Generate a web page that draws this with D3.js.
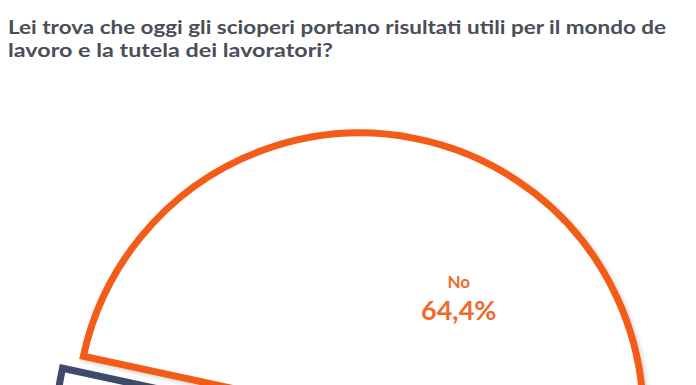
<!DOCTYPE html>
<html>
<head>
<meta charset="utf-8">
<script src="https://cdn.jsdelivr.net/npm/d3@7"></script>
<style>
  html, body { margin: 0; padding: 0; background: #ffffff; }
  svg { display: block; }
</style>
</head>
<body>
<svg id="chart" width="696" height="385"></svg>
<script>
// ---- data ----
const titleLines = [
  "Lei trova che oggi gli scioperi portano risultati utili per il mondo de",
  "lavoro e la tutela dei lavoratori?"
];
const categories = ["No", "Sì"];
const values = [64.4, 35.6];
const valueLabels = ["64,4%", "35,6%"];
const colors = ["#f25c19", "#3d4b68"];

// ---- layout ----
const W = 696, H = 385;
const cx = 360, cy = 416;
const R = [283, 293];          // outer radius per slice
const explode = [0, 18];       // offset per slice
const startDeg = -77.8;

const svg = d3.select("#chart");
svg.append("rect").attr("width", W).attr("height", H).attr("fill", "#ffffff");

const defs = svg.append("defs");
const f = defs.append("filter").attr("id", "sh").attr("x", "-20%").attr("y", "-20%").attr("width", "140%").attr("height", "140%");
f.append("feDropShadow").attr("dx", 2).attr("dy", 2).attr("stdDeviation", 2).attr("flood-color", "#000").attr("flood-opacity", 0.18);

// title
const title = svg.append("g");
title.selectAll("text").data(titleLines).join("text")
  .attr("x", 8)
  .attr("y", (d, i) => 34 + i * 23)
  .attr("font-family", "Lato, 'Noto Sans', sans-serif")
  .attr("font-weight", 700)
  .attr("font-size", 18)
  .attr("fill", "#4a4e58")
  .attr("textLength", (d, i) => i === 0 ? 658 : 325)
  .attr("lengthAdjust", "spacingAndGlyphs")
  .text(d => d);

const pie = d3.pie().sort(null).value(d => d)
  .startAngle(startDeg * Math.PI / 180)
  .endAngle(startDeg * Math.PI / 180 + 2 * Math.PI);
const arcs = pie(values);

const g = svg.append("g").attr("transform", `translate(${cx},${cy})`);

g.selectAll("path.slice").data(arcs).join("path")
  .attr("class", "slice")
  .attr("transform", (d, i) => {
    const m = (d.startAngle + d.endAngle) / 2;
    return `translate(${Math.sin(m) * explode[i]},${-Math.cos(m) * explode[i]})`;
  })
  .attr("d", (d, i) => d3.arc().innerRadius(0).outerRadius(R[i])(d))
  .attr("fill", "#ffffff")
  .attr("stroke", (d, i) => colors[i])
  .attr("stroke-width", 7)
  .attr("stroke-linejoin", "miter")
  .attr("filter", "url(#sh)");

// labels (only those whose position falls inside the visible frame)
const labelArc = d3.arc().innerRadius(0).outerRadius(320);
const visibleArcs = arcs.filter(d => cy + labelArc.centroid(d)[1] + 40 < H);
const lab = g.selectAll("g.lab").data(visibleArcs).join("g")
  .attr("class", "lab")
  .attr("transform", d => { const c = labelArc.centroid(d); return `translate(${c[0]},${c[1]})`; });
lab.append("text")
  .attr("text-anchor", "middle")
  .attr("y", -2)
  .attr("font-family", "Lato, 'Noto Sans', sans-serif")
  .attr("font-weight", 700)
  .attr("font-size", 17)
  .attr("fill", d => d.index === 0 ? "#ec6b2d" : colors[d.index])
  .text(d => categories[d.index]);
lab.append("text")
  .attr("text-anchor", "middle")
  .attr("y", 30)
  .attr("font-family", "Lato, 'Noto Sans', sans-serif")
  .attr("font-weight", 700)
  .attr("font-size", 27)
  .attr("fill", d => d.index === 0 ? "#ec6b2d" : colors[d.index])
  .text(d => valueLabels[d.index]);
</script>
</body>
</html>
